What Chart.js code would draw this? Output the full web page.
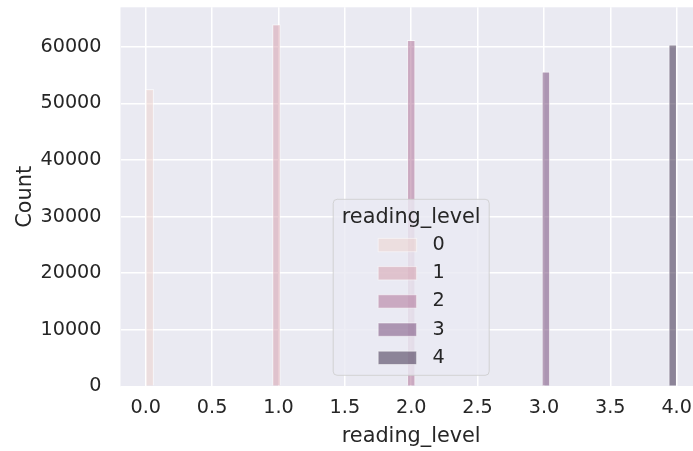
<!DOCTYPE html>
<html>
<head>
<meta charset="utf-8">
<script src="https://cdn.jsdelivr.net/npm/chart.js@4.4.1/dist/chart.umd.min.js"></script>
<style>
  html, body { margin: 0; padding: 0; background: #fff; }
  #wrap { width: 693px; height: 451px; }
</style>
</head>
<body>
<div id="wrap"><canvas id="chart"></canvas></div>
<script>
// histogram of reading_level, one hue per level
const levels = ["0", "1", "2", "3", "4"];
const binCenters = [0.030, 0.985, 2.000, 3.015, 3.970];
const counts = [52500, 63950, 61150, 55600, 60350];
const xTicks = [0, 0.5, 1, 1.5, 2, 2.5, 3, 3.5, 4];
const yTicks = [0, 10000, 20000, 30000, 40000, 50000, 60000];

// seaborn cubehelix, light -> dark
const baseColors = [
  [237, 209, 203],
  [212, 153, 167],
  [170, 103, 143],
  [110, 64, 113],
  [45, 30, 62],
];
const rgba = (c, a) => `rgba(${c[0]},${c[1]},${c[2]},${a})`;

const TEXT = "#262626";
const TICK_SIZE = 19.2;
const LABEL_SIZE = 20.8;
Chart.defaults.font.family = "'DejaVu Sans', sans-serif";
Chart.defaults.color = TEXT;

const background = {
  id: "background",
  beforeDraw(chart) {
    const { ctx, chartArea } = chart;
    ctx.save();
    ctx.fillStyle = "#ffffff";
    ctx.fillRect(0, 0, chart.width, chart.height);
    ctx.fillStyle = "#EAEAF2";
    ctx.fillRect(chartArea.left, chartArea.top,
      chartArea.right - chartArea.left, chartArea.bottom - chartArea.top);
    ctx.restore();
  },
};

// matplotlib-like legend (lower center of the full axes) + x label,
// both centred on the middle of the original axes which runs past the right edge
const hueLegend = {
  id: "hueLegend",
  afterDatasetsDraw(chart) {
    const { ctx, chartArea, scales } = chart;
    const cx = scales.x.getPixelForValue(2);
    const w = 156, h = 176;
    const bottom = chartArea.bottom - 11;
    const top = bottom - h;
    ctx.save();
    ctx.beginPath();
    ctx.roundRect(cx - w / 2, top, w, h, 4);
    ctx.fillStyle = "rgba(234,234,242,0.8)";
    ctx.fill();
    ctx.strokeStyle = "rgba(204,204,204,0.8)";
    ctx.lineWidth = 1;
    ctx.stroke();

    ctx.fillStyle = TEXT;
    ctx.textBaseline = "middle";
    ctx.textAlign = "center";
    ctx.font = `${LABEL_SIZE}px 'DejaVu Sans'`;
    ctx.fillText("reading_level", cx, top + 18);

    ctx.font = `${TICK_SIZE}px 'DejaVu Sans'`;
    ctx.textAlign = "left";
    chart.data.datasets.forEach((ds, i) => {
      const y = top + 45.7 + i * 28.2;
      ctx.fillStyle = ds.backgroundColor;
      ctx.fillRect(cx - 33, y - 6.6, 38.4, 13.3);
      ctx.strokeStyle = ds.borderColor;
      ctx.lineWidth = 1;
      ctx.strokeRect(cx - 33, y - 6.6, 38.4, 13.3);
      ctx.fillStyle = TEXT;
      ctx.fillText(ds.label, cx + 21.4, y);
    });

    // x axis label
    ctx.font = `${LABEL_SIZE}px 'DejaVu Sans'`;
    ctx.textAlign = "center";
    ctx.fillText("reading_level", cx, chartArea.bottom + 50);
    ctx.restore();
  },
};

const datasets = levels.map((lvl, i) => ({
  label: lvl,
  data: [{ x: binCenters[i], y: counts[i] }],
  backgroundColor: rgba(baseColors[i], 0.5),
  borderColor: "rgba(255,255,255,0.5)",
  borderWidth: 1,
  barThickness: 7.9,
  grouped: false,
}));

new Chart(document.getElementById("chart"), {
  type: "bar",
  data: { datasets },
  options: {
    responsive: true,
    maintainAspectRatio: false,
    animation: false,
    layout: { padding: { top: 7.3, right: 0, left: 0, bottom: 0 } },
    plugins: {
      legend: { display: false },
      tooltip: { enabled: false },
    },
    scales: {
      x: {
        type: "linear",
        min: -0.19,
        max: 4.123,
        offset: false,
        afterBuildTicks: (axis) => {
          axis.ticks = xTicks.map((v) => ({ value: v }));
        },
        afterFit: (axis) => {
          axis.height = 64.7;
          axis.paddingLeft = 0;
          axis.paddingRight = 0;
        },
        ticks: {
          padding: 10.2,
          font: { size: TICK_SIZE },
          color: TEXT,
          maxRotation: 0,
          callback: (v) => v.toFixed(1),
        },
        grid: { color: "#ffffff", lineWidth: 1.5, drawTicks: false, offset: false },
        border: { display: false },
        title: { display: false },
      },
      y: {
        min: 0,
        max: 67000,
        afterBuildTicks: (axis) => {
          axis.ticks = yTicks.map((v) => ({ value: v }));
        },
        afterFit: (axis) => {
          axis.width = 120.5;
          axis.paddingTop = 0;
          axis.paddingBottom = 0;
        },
        ticks: {
          padding: 19,
          font: { size: TICK_SIZE },
          color: TEXT,
          callback: (v) => String(v),
        },
        grid: { color: "#ffffff", lineWidth: 1.5, drawTicks: false },
        border: { display: false },
        title: {
          display: true,
          text: "Count",
          font: { size: LABEL_SIZE },
          color: TEXT,
          padding: { top: 13, bottom: 0 },
        },
      },
    },
  },
  plugins: [background, hueLegend],
});
</script>
</body>
</html>
